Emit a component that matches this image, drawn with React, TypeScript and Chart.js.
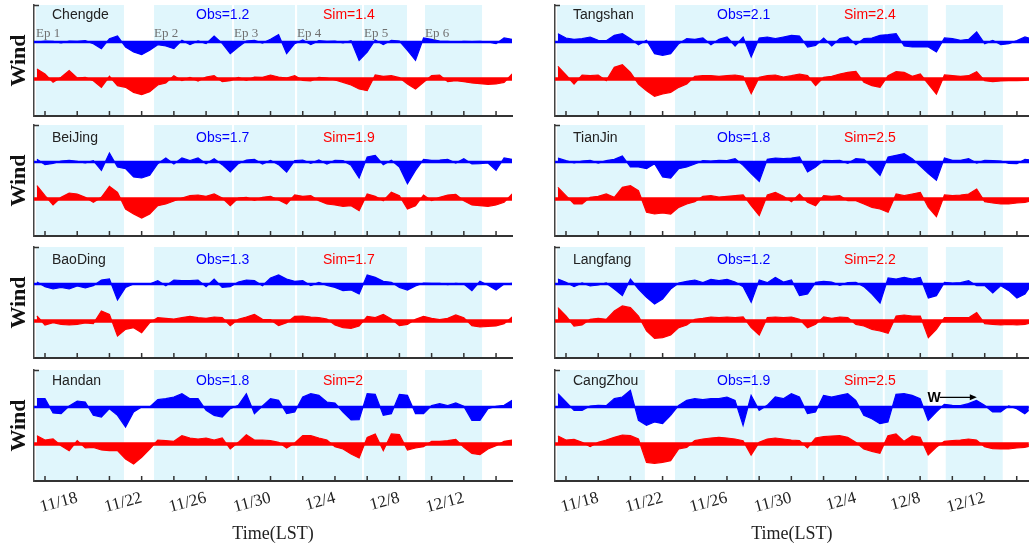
import React, { useEffect, useRef } from 'react';
import { Chart, registerables } from 'chart.js';

Chart.register(...registerables);

const SANS = "'Liberation Sans', Arial, sans-serif";
const SERIF = "'Liberation Serif', 'Times New Roman', serif";
const OBS_COLOR = '#0000ff';
const SIM_COLOR = '#ff0000';
const BAND_COLOR = '#e0f6fc';
const AXIS_COLOR = '#333333';

// sample times, in days counted from Nov 0 (11/16 = 16, 12/4 = 34)
const TIMES = [
  15.5, 16, 16.5, 17, 17.5, 18, 18.5, 19, 19.5, 20,
  20.5, 21, 21.5, 22, 22.5, 23, 23.5, 24, 24.5, 25,
  25.5, 26, 26.5, 27, 27.5, 28, 28.5, 29, 29.5, 30,
  30.5, 31, 31.5, 32, 32.5, 33, 33.5, 34, 34.5, 35,
  35.5, 36, 36.5, 37, 37.5, 38, 38.5, 39, 39.5, 40,
  40.5, 41, 41.5, 42, 42.5, 43, 43.5, 44, 44.5, 45,
];

const TICK_LABEL_DAYS = [18, 22, 26, 30, 34, 38, 42];
const TICK_LABELS = ['11/18', '11/22', '11/26', '11/30', '12/4', '12/8', '12/12'];

const EP_START = [15.44, 22.77, 27.73, 31.65, 35.8, 39.59];
const EP_END = [20.9, 27.61, 31.52, 35.68, 38.47, 43.13];
const EP_LABELS = ['Ep 1', 'Ep 2', 'Ep 3', 'Ep 4', 'Ep 5', 'Ep 6'];

const STATIONS = ['Chengde', 'BeiJing', 'BaoDing', 'Handan', 'Tangshan', 'TianJin', 'Langfang', 'CangZhou'];
const OBS_MEAN = [1.2, 1.7, 1.3, 1.8, 2.1, 1.8, 1.2, 1.9];
const SIM_MEAN = [1.4, 1.9, 1.7, 2, 2.4, 2.5, 2.2, 2.5];

// wind stick vertical component (upward positive), arbitrary units
const OBS_CHENGDE = [0, 3, 2, -3, 3, 2, 4, -5, -20, 10, 18, -15, -30, -38, -25, -8, -12, -20, 5, -8, 3, -5, 18, -4, -35, -15, 3, 5, -3, 8, 22, -35, -5, 6, -8, 4, 2, 3, -3, 4, -55, -30, 6, -8, 5, 3, -25, -55, 12, 8, 3, 2, 0, 2, 1, 2, 0, -5, 12, 8];
const SIM_CHENGDE = [30, 15, -10, 5, 25, 3, 5, -5, -25, 8, -20, -25, -40, -47, -38, -18, -12, 10, -5, 5, -6, 6, 10, -8, -5, 5, -4, 6, 5, 12, 6, 3, 10, -4, -6, 5, 3, -3, -10, -18, -30, -35, 12, 8, 10, 4, -15, -30, -10, 10, 12, -8, -5, -8, -12, -14, -16, -15, -10, 15];
const OBS_BEIJING = [8, -8, -4, 3, 5, 2, -3, 4, -25, 27, -15, -20, -45, -48, -40, -5, 12, -6, 12, 4, 12, -5, 10, -8, -30, -5, 6, 8, -6, 5, -8, -30, 4, 6, -4, 6, -6, 5, 4, -10, -48, 15, 20, -8, 5, -15, -65, -25, 8, 5, 6, 8, -3, 10, -6, -5, -3, -25, 12, 8];
const SIM_BEIJING = [40, 10, -18, 5, 18, 15, 5, -10, 5, 38, 20, -30, -45, -57, -45, -20, -15, -6, 3, 10, 12, 8, 15, 3, -20, 3, 5, -4, 5, 8, -3, -15, 12, 8, 10, -5, -15, -18, -22, -20, -35, 15, 8, -5, 20, 10, -30, -20, 12, -5, 5, 12, 14, -5, -18, -20, -22, -18, -10, 15];
const OBS_BAODING = [6, -8, -15, -10, -15, -6, -12, -5, 12, 15, -48, -10, 0, 0, 0, 10, -5, 12, 10, 10, 12, -8, 15, -10, -8, 6, 12, 10, -5, 18, 27, 15, 8, 10, -5, 5, -4, -10, -20, -18, -30, 27, 20, 8, 5, -10, -18, -6, 3, 2, 2, -2, 2, 0, -20, 8, -4, -18, 0, 2];
const SIM_BAODING = [15, -12, -5, -10, -12, -10, -6, -8, 30, 20, -45, -25, -20, -35, -5, 10, 8, 6, 10, 14, 10, 8, 12, 10, -14, 5, 12, 20, 5, 4, -14, -5, 14, 15, 12, 10, 6, -12, -20, -22, -15, 14, 10, 20, 6, -14, -10, 5, 14, 8, 4, 8, 18, 10, -14, -18, -16, -15, -8, 12];
const OBS_HANDAN = [25, 25, -18, -20, 3, 18, 15, -25, -30, -5, -25, -60, -15, 0, 0, 22, 25, 30, 40, 25, 25, -10, -25, -30, -5, 5, 40, -20, 3, 25, 20, -20, -15, 30, 40, 35, 15, 12, -15, -39, -38, 40, 38, -25, -20, 38, 35, -20, -20, 4, 10, 4, 12, 2, -40, -40, -5, 2, 5, 20];
const SIM_HANDAN = [25, 12, 15, -5, -20, 10, -12, -10, -18, -20, -20, -45, -60, -40, -15, 12, 10, 8, 25, 18, 15, 18, 12, 18, -15, 5, 28, 12, 12, 10, 5, -12, 3, 25, 25, 18, 12, -8, -15, -30, -42, 20, 30, -20, 30, 28, -18, -12, -8, 8, 8, 10, 14, -10, -28, -32, -15, -5, 8, 12];
const OBS_TANGSHAN = [25, 12, 8, 10, 15, 5, 4, 20, 25, 10, -8, 5, -35, -40, -35, -5, 10, 8, 12, -8, 8, 15, -12, 15, -45, 12, 15, 10, 15, 20, 18, -15, -10, 12, -12, 10, 15, -8, 10, 12, 20, 22, 25, -12, -15, -15, -15, -30, 12, 10, 5, 8, 30, -5, 5, -8, -5, 4, 15, 8];
const SIM_TANGSHAN = [38, 12, -15, 12, 10, 12, -5, 35, 43, 20, -15, -35, -52, -45, -40, -25, -15, 8, 10, 10, 8, 10, 12, 8, -44, 5, 10, 12, 6, 10, 15, 10, -20, 5, 8, 15, 20, 23, -10, -20, -25, 10, 22, 20, 8, 15, -15, -45, 12, 10, 8, 10, 22, -5, -8, -6, -5, -5, -4, 0];
const OBS_TIANJIN = [12, 4, -3, 3, 5, -3, 4, 8, 18, -15, -15, -20, -5, -45, -48, -20, -15, -6, 4, 3, 5, 4, 10, -10, -35, -58, 8, 12, 10, 12, 15, -30, -15, 5, 4, 5, -4, 10, 8, -15, -40, 15, 20, 25, 10, -12, -35, -55, 12, 5, 5, 10, -3, 5, 4, 3, -4, -5, 8, 5];
const SIM_TIANJIN = [35, 10, -15, -15, 5, 8, 15, 5, 35, 40, 25, -40, -45, -42, -45, -25, -15, -8, 8, 10, 6, 8, 10, 12, -20, -50, 12, 20, 8, -8, 15, -10, -20, 10, 8, 10, -5, -5, -15, -25, -30, -40, 15, 10, 15, 20, -25, -53, 12, 10, 12, 15, 30, -8, -12, -15, -15, -12, -10, -5];
const OBS_LANGFANG = [15, 5, -8, 3, -6, -3, 3, -15, -35, 15, -15, -40, -60, -45, -15, 3, 8, 12, 4, 14, 10, 14, 6, -8, -55, 12, 4, 20, 6, 12, -35, -30, 5, 8, 6, -4, 4, 5, -8, -30, -57, 18, 15, 20, 15, 20, -42, -35, 5, 3, 4, 10, -5, -5, -27, -5, -20, -42, -30, 5];
const SIM_LANGFANG = [40, 15, -15, -12, 5, 8, 5, 30, 45, 40, 15, -30, -52, -50, -42, -20, -12, 5, 8, 12, 10, 12, 10, 12, -20, -42, 10, 12, 10, 12, 5, -20, -10, 12, 8, 12, 10, -10, -15, -25, -30, -37, 15, 18, 15, 15, -50, -25, 10, 10, 10, 10, 25, -8, -10, -12, -10, -12, -10, -5];
const OBS_CANGZHOU = [40, 15, -10, -10, 3, 5, 4, 25, 30, 50, -40, -55, -45, -50, -25, 5, 20, 25, 22, 25, 25, 30, 20, -55, 35, -10, 5, 30, 25, 40, 30, -20, -15, 35, 30, 35, 40, 20, -25, -35, -50, -45, 38, 40, 35, 25, -40, -15, 8, 5, 4, 10, 20, 5, -15, -15, 3, -5, -20, 0];
const SIM_CANGZHOU = [24, 12, 14, 5, -8, 5, 12, 20, 27, 25, 15, -55, -58, -55, -50, -15, -10, 10, 15, 18, 20, 18, 15, 10, -33, 5, 15, 18, 15, 12, 10, -12, 18, 22, 24, 25, 20, 5, -15, -22, -28, 25, 30, 8, 24, 20, -33, -10, 8, 10, 12, 15, 12, -8, -14, -15, -15, -12, -10, -5];

const OBS_SERIES = [OBS_CHENGDE, OBS_BEIJING, OBS_BAODING, OBS_HANDAN, OBS_TANGSHAN, OBS_TIANJIN, OBS_LANGFANG, OBS_CANGZHOU];
const SIM_SERIES = [SIM_CHENGDE, SIM_BEIJING, SIM_BAODING, SIM_HANDAN, SIM_TANGSHAN, SIM_TIANJIN, SIM_LANGFANG, SIM_CANGZHOU];

// y axis layout of each panel: obs sticks drawn around OBS_BASE, sim sticks around SIM_BASE
const Y_MIN = 0;
const Y_MAX = 333;
const OBS_BASE = 222;
const SIM_BASE = 111;
const X_MIN = 15.317;
const X_MAX_LEFT = 44.99;
const X_MAX_RIGHT = 44.75;
const ARROW_FROM = 39.22;
const ARROW_TO = 41.52;

const CANVAS_TOP = [0, 120, 242, 365];
const TEXT_DY = [10.5, 13, 13, 11];

const decorPlugin = {
  id: 'decor',
  beforeDraw(chart: any) {
    const { ctx, chartArea: a, scales } = chart;
    const x = scales.x;
    ctx.save();
    ctx.fillStyle = BAND_COLOR;
    for (let k = 0; k < EP_START.length; k++) {
      const x1 = Math.max(x.getPixelForValue(EP_START[k]), a.left);
      const x2 = Math.min(x.getPixelForValue(EP_END[k]), a.right);
      if (x2 > x1) ctx.fillRect(x1, a.top, x2 - x1, a.bottom - a.top);
    }
    ctx.restore();
  },
  afterDraw(chart: any, _args: any, opts: any) {
    const { ctx, chartArea: a, scales } = chart;
    const x = scales.x;
    ctx.save();
    ctx.strokeStyle = AXIS_COLOR;
    ctx.lineWidth = 1.5;
    ctx.beginPath();
    for (const t of x.ticks) {
      const px = x.getPixelForValue(t.value);
      ctx.moveTo(px, a.bottom);
      ctx.lineTo(px, a.bottom - 5);
    }
    ctx.moveTo(a.left, a.top + 0.5);
    ctx.lineTo(a.left + 5, a.top + 0.5);
    ctx.stroke();

    const ty = a.top + opts.textDy;
    ctx.textBaseline = 'middle';
    ctx.font = `14px ${SANS}`;
    ctx.textAlign = 'left';
    ctx.fillStyle = '#222';
    ctx.fillText(opts.name, a.left + 18, ty);
    ctx.fillStyle = OBS_COLOR;
    ctx.fillText(`Obs=${opts.obsMean}`, a.left + 162, ty);
    ctx.fillStyle = SIM_COLOR;
    ctx.fillText(`Sim=${opts.simMean}`, a.left + 289, ty);

    if (opts.showEp) {
      ctx.font = `13px ${SERIF}`;
      ctx.fillStyle = '#707070';
      ctx.textAlign = 'left';
      for (let k = 0; k < EP_LABELS.length; k++) {
        ctx.fillText(EP_LABELS[k], x.getPixelForValue(EP_START[k]), a.top + 28.5);
      }
    }
    if (opts.showArrow) {
      const x1 = x.getPixelForValue(ARROW_FROM);
      const x2 = x.getPixelForValue(ARROW_TO);
      const ay = a.top + 27.3;
      ctx.font = `bold 14px ${SANS}`;
      ctx.fillStyle = '#000';
      ctx.textAlign = 'right';
      ctx.fillText('W', x1 + 1, a.top + 28.3);
      ctx.strokeStyle = '#000';
      ctx.lineWidth = 1.2;
      ctx.beginPath();
      ctx.moveTo(x1, ay);
      ctx.lineTo(x2 - 2, ay);
      ctx.stroke();
      ctx.beginPath();
      ctx.moveTo(x2, ay);
      ctx.lineTo(x2 - 7, ay - 3);
      ctx.lineTo(x2 - 7, ay + 3);
      ctx.closePath();
      ctx.fill();
    }
    ctx.restore();
  },
};

function Panel({ idx }: { idx: number }) {
  const ref = useRef<HTMLCanvasElement>(null);
  const col = idx < 4 ? 0 : 1;
  const row = idx % 4;
  const left = col === 0 ? 0 : 521;
  const width = col === 0 ? 520 : 508;
  const top = CANVAS_TOP[row];
  const height = row === 3 ? 184 : 120;

  useEffect(() => {
    if (!ref.current) return;
    const obs = OBS_SERIES[idx];
    const sim = SIM_SERIES[idx];
    const xMax = col === 0 ? X_MAX_LEFT : X_MAX_RIGHT;
    const chart = new Chart(ref.current, {
      type: 'line',
      data: {
        datasets: [
          {
            data: [{ x: X_MIN, y: OBS_BASE }, { x: X_MAX_LEFT, y: OBS_BASE }],
            borderColor: OBS_COLOR,
            borderWidth: 2.5,
            pointRadius: 0,
            fill: false,
          },
          {
            data: TIMES.map((t, i) => ({ x: t, y: OBS_BASE + obs[i] })),
            borderColor: OBS_COLOR,
            backgroundColor: OBS_COLOR,
            borderWidth: 1.2,
            pointRadius: 0,
            tension: 0,
            fill: { value: OBS_BASE },
          },
          {
            data: [{ x: X_MIN, y: SIM_BASE }, { x: X_MAX_LEFT, y: SIM_BASE }],
            borderColor: SIM_COLOR,
            borderWidth: 3.5,
            pointRadius: 0,
            fill: false,
          },
          {
            data: TIMES.map((t, i) => ({ x: t, y: SIM_BASE + sim[i] })),
            borderColor: SIM_COLOR,
            backgroundColor: SIM_COLOR,
            borderWidth: 1.2,
            pointRadius: 0,
            tension: 0,
            fill: { value: SIM_BASE },
          },
        ],
      } as any,
      options: {
        responsive: false,
        animation: false,
        devicePixelRatio: 1,
        events: [],
        layout: { padding: { top: 5, right: col === 0 ? 8 : 0, left: 0, bottom: 0 } },
        plugins: {
          legend: { display: false },
          tooltip: { enabled: false },
          decor: {
            name: STATIONS[idx],
            obsMean: OBS_MEAN[idx],
            simMean: SIM_MEAN[idx],
            showEp: idx === 0,
            showArrow: idx === 7,
            textDy: TEXT_DY[row],
          },
        } as any,
        scales: {
          x: {
            type: 'linear',
            min: X_MIN,
            max: xMax,
            afterFit: (s: any) => {
              s.height = row === 3 ? 68 : 4;
            },
            grid: { display: true, drawOnChartArea: false, drawTicks: false, color: 'rgba(0,0,0,0)' },
            border: { display: true, color: AXIS_COLOR, width: 2 },
            ticks: {
              display: row === 3,
              stepSize: 2,
              includeBounds: false,
              autoSkip: false,
              minRotation: 15,
              maxRotation: 15,
              padding: 7,
              color: '#222',
              font: { family: SERIF, size: 17 },
              callback: (v: any) => {
                const k = TICK_LABEL_DAYS.indexOf(Number(v));
                return k >= 0 ? TICK_LABELS[k] : '';
              },
            },
            title: {
              display: row === 3,
              text: 'Time(LST)',
              color: '#222',
              font: { family: SERIF, size: 18 },
              padding: { top: 0, bottom: 4 },
            },
          },
          y: {
            type: 'linear',
            min: Y_MIN,
            max: Y_MAX,
            afterFit: (s: any) => {
              s.width = 34;
            },
            grid: { display: true, drawOnChartArea: false, drawTicks: false, color: 'rgba(0,0,0,0)' },
            border: { display: true, color: '#444', width: 1.5 },
            ticks: { display: false },
            title: {
              display: col === 0,
              text: 'Wind',
              color: '#111',
              font: { family: SERIF, size: 22, weight: 'bold' },
              padding: { top: 6, bottom: 0 },
            },
          },
        },
      } as any,
      plugins: [decorPlugin as any],
    });
    return () => chart.destroy();
  }, [idx]);

  return (
    <canvas
      ref={ref}
      width={width}
      height={height}
      style={{ position: 'absolute', left, top, width, height }}
    />
  );
}

export default function App() {
  return (
    <div
      style={{
        position: 'fixed',
        left: 0,
        top: 0,
        width: 1029,
        height: 549,
        overflow: 'hidden',
        background: '#ffffff',
      }}
    >
      {STATIONS.map((_, i) => (
        <Panel key={i} idx={i} />
      ))}
    </div>
  );
}
